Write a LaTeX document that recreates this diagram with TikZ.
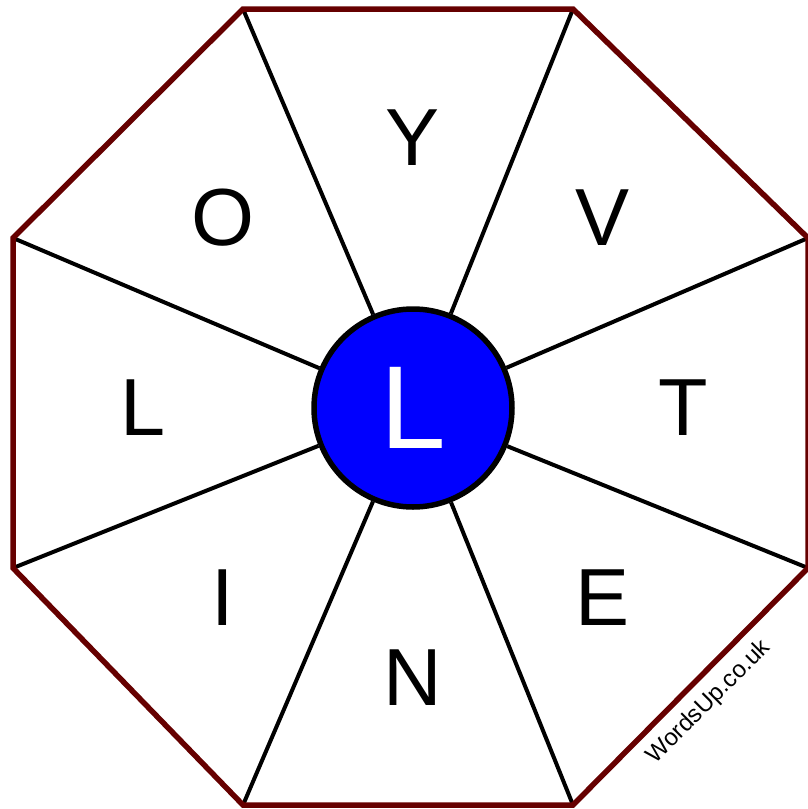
\documentclass[tikz,border=0pt]{standalone}
\usepackage{fontspec}
\setmainfont{Liberation Sans}
\definecolor{rim}{RGB}{102,0,0}
\definecolor{hub}{RGB}{0,0,255}
\begin{document}
\begin{tikzpicture}[x=1pt, y=-1pt]
\useasboundingbox (0,0) rectangle (808,809);
\coordinate (v1) at (243,9);
\coordinate (v2) at (573,9);
\coordinate (v3) at (808,238);
\coordinate (v4) at (808,568);
\coordinate (v5) at (573,805);
\coordinate (v6) at (243,805);
\coordinate (v7) at (13,568);
\coordinate (v8) at (13,238);
\node[circle, draw, line width=5.5pt, fill=hub, minimum size=198pt, inner sep=0pt, text=white, font=\fontsize{118}{118}\selectfont] (c) at (413,408) {L};
\foreach \v in {v1,v2,v3,v4,v5,v6,v7,v8}
  \draw[line width=4pt] (\v) -- (c);
\draw[rim, line width=5.5pt, line join=miter] (v1) -- (v2) -- (v3) -- (v4) -- (v5) -- (v6) -- (v7) -- (v8) -- cycle;
\node[font=\fontsize{81}{81}\selectfont] (y) at (413,138) {Y};
\node[font=\fontsize{81}{81}\selectfont] (v) at (603,218) {V};
\node[font=\fontsize{81}{81}\selectfont] (t) at (683,408) {T};
\node[font=\fontsize{81}{81}\selectfont] (e) at (603,598) {E};
\node[font=\fontsize{81}{81}\selectfont] (n) at (413,678) {N};
\node[font=\fontsize{81}{81}\selectfont] (i) at (223,598) {I};
\node[font=\fontsize{81}{81}\selectfont] (l) at (143,408) {L};
\node[font=\fontsize{81}{81}\selectfont] (o) at (223,218) {O};
\node[rotate=45, font=\fontsize{24}{24}\selectfont] (w) at (709,702) {WordsUp.co.uk};
\end{tikzpicture}
\end{document}
